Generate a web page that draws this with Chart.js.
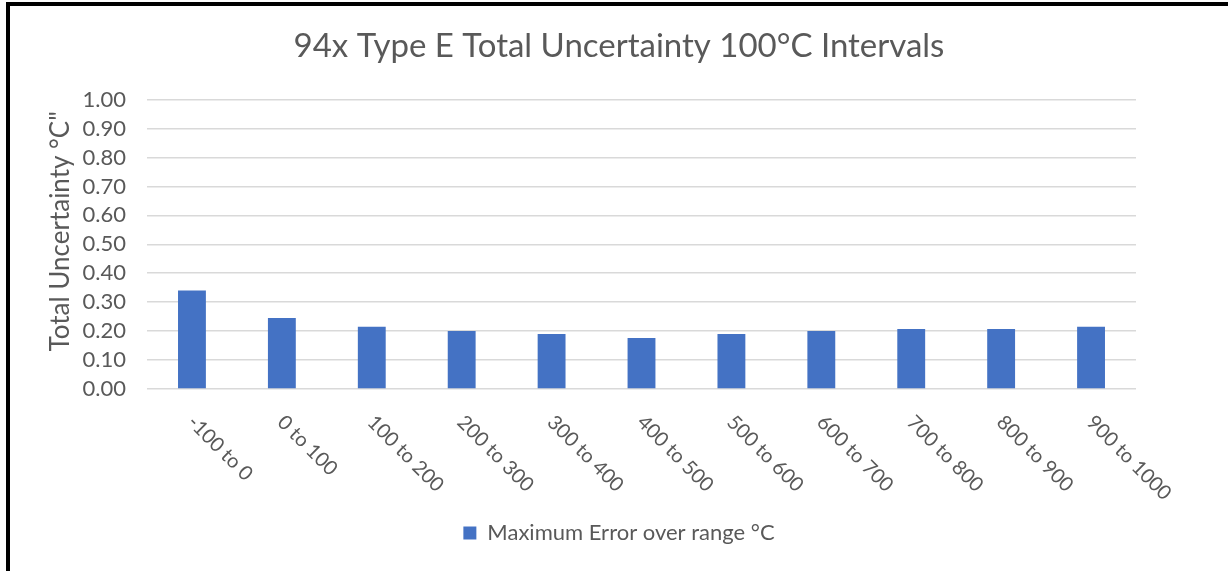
<!DOCTYPE html>
<html>
<head>
<meta charset="utf-8">
<title>94x Type E Total Uncertainty</title>
<script src="https://cdn.jsdelivr.net/npm/chart.js@4/dist/chart.umd.min.js"></script>
<style>
  html, body { margin: 0; padding: 0; background: #fff; }
  #frame {
    position: absolute;
    left: 6px;
    top: 2px;
    width: 1218px;
    height: 565px;
    border-top: 4px solid #000;
    border-left: 4px solid #000;
  }
</style>
</head>
<body>
<div id="frame">
  <canvas id="uncertainty-chart" width="1218" height="565"></canvas>
</div>
<script>
var categories = ['-100 to 0', '0 to 100', '100 to 200', '200 to 300', '300 to 400',
    '400 to 500', '500 to 600', '600 to 700', '700 to 800', '800 to 900', '900 to 1000'];
var maxError = [0.34, 0.245, 0.215, 0.20, 0.19, 0.176, 0.19, 0.20, 0.207, 0.207, 0.215];
var yMin = 0;
var yMax = 1;
var yStep = 0.1;
var yTitle = 'Total Uncertainty \u00B0C"';

var textGrey = '#595959';
var fontFamily = 'Lato, "Open Sans", sans-serif';

// Excel-style axis text: diagonal category labels that start at the tick and
// run down to the right, and a y title sitting a bit above the plot's middle
var excelAxisText = {
    id: 'excelAxisText',
    afterDraw: function (chart) {
        var xScale = chart.scales.x;
        var yScale = chart.scales.y;
        var ctx = chart.ctx;
        ctx.save();
        ctx.fillStyle = textGrey;
        ctx.font = '20px ' + fontFamily;
        ctx.textAlign = 'left';
        ctx.textBaseline = 'middle';
        categories.forEach(function (label, i) {
            var px = xScale.getPixelForTick(i);
            ctx.save();
            ctx.translate(px - 1, xScale.top + 30);
            ctx.rotate(Math.PI / 4);
            ctx.fillText(label, 0, 0);
            ctx.restore();
        });

        ctx.font = '26px ' + fontFamily;
        ctx.textAlign = 'center';
        ctx.translate(yScale.left + 51, (yScale.top + yScale.bottom) / 2 - 13);
        ctx.rotate(-Math.PI / 2);
        ctx.fillText(yTitle, 0, 0);
        ctx.restore();
    }
};

var ctx = document.getElementById('uncertainty-chart').getContext('2d');

new Chart(ctx, {
    type: 'bar',
    data: {
        labels: categories,
        datasets: [{
            label: 'Maximum Error over range \u00B0C',
            backgroundColor: '#4472c4',
            borderWidth: 0,
            data: maxError,
            barPercentage: 0.62,
            categoryPercentage: 0.5
        }]
    },
    options: {
        responsive: false,
        animation: false,
        layout: {
            padding: { left: 0, right: 0, top: 0, bottom: 17 }
        },
        scales: {
            x: {
                grid: { display: false },
                border: { display: false },
                ticks: { display: false },
                afterFit: function (scale) {
                    scale.height = 123;
                }
            },
            y: {
                min: yMin,
                max: yMax,
                border: { display: false },
                grid: {
                    color: '#d9d9d9',
                    lineWidth: 1.5,
                    drawTicks: false
                },
                ticks: {
                    stepSize: yStep,
                    autoSkip: false,
                    padding: 21,
                    color: textGrey,
                    font: { family: fontFamily, size: 22 },
                    callback: function (value) {
                        return value.toFixed(2);
                    }
                },
                afterFit: function (scale) {
                    scale.width = 137;
                }
            },
            spacer: {
                type: 'linear',
                position: 'right',
                grid: { display: false },
                border: { display: false },
                ticks: { display: false },
                afterFit: function (scale) {
                    scale.width = 92;
                }
            }
        },
        plugins: {
            legend: {
                display: true,
                position: 'bottom',
                labels: {
                    boxWidth: 13,
                    boxHeight: 13,
                    padding: 10,
                    color: textGrey,
                    font: { family: fontFamily, size: 22 }
                }
            },
            title: {
                display: true,
                text: '94x Type E Total Uncertainty 100\u00B0C Intervals',
                color: textGrey,
                font: { family: fontFamily, size: 33, weight: 'normal' },
                padding: { top: 21, bottom: 33 }
            },
            tooltip: { enabled: false }
        }
    },
    plugins: [excelAxisText]
});
</script>
</body>
</html>
